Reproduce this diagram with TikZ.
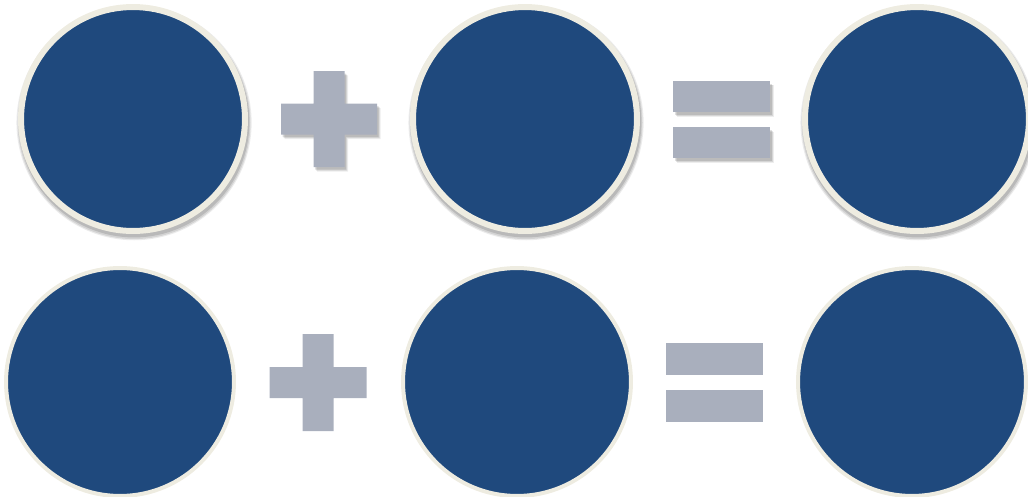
\documentclass[tikz,border=0pt]{standalone}
\usepackage{xcolor}
\usetikzlibrary{shadows}
\definecolor{DiscBlue}{HTML}{1F497D}
\definecolor{RimCream}{HTML}{EEECE1}
\definecolor{SignGray}{HTML}{A9AFBD}

\begin{document}
\begin{tikzpicture}[
  x=0.02cm, y=-0.02cm,
  disc/.style={circle, fill=DiscBlue, draw=RimCream, inner sep=0pt},
  softdisc/.style={
    drop shadow={shadow scale=1.05, shadow xshift=0.02cm, shadow yshift=-0.07cm, opacity=0.08, fill=black},
    drop shadow={shadow scale=1.04, shadow xshift=0.02cm, shadow yshift=-0.07cm, opacity=0.10, fill=black},
    drop shadow={shadow scale=1.03, shadow xshift=0.02cm, shadow yshift=-0.06cm, opacity=0.12, fill=black}},
  disctop/.style={disc, softdisc, minimum size=4.48cm, line width=0.12cm},
  discbottom/.style={disc, minimum size=4.56cm, line width=0.08cm},
  sign/.style={fill=SignGray},
  signtop/.style={sign,
    drop shadow={shadow xshift=0.07cm, shadow yshift=-0.09cm, opacity=0.07, fill=black},
    drop shadow={shadow xshift=0.05cm, shadow yshift=-0.07cm, opacity=0.10, fill=black},
    drop shadow={shadow xshift=0.03cm, shadow yshift=-0.05cm, opacity=0.12, fill=black}}
]
\useasboundingbox (0,0) rectangle (1028,497);

% top row
\node[disctop] (lhsA) at (133,119) {};
\node[disctop] (rhsA) at (525,119) {};
\node[disctop] (sumA) at (917,119) {};
\coordinate (plusA) at (329,119);
\coordinate (eqA) at (721.5,119.5);

% bottom row
\node[discbottom] (lhsB) at (120,382) {};
\node[discbottom] (rhsB) at (517,382) {};
\node[discbottom] (sumB) at (912,382) {};
\coordinate (plusB) at (318,382.5);
\coordinate (eqB) at (714.5,382);

% plus signs
\path[signtop, shift={(plusA)}] (-48,-15.5) -- (-15.5,-15.5) -- (-15.5,-48) -- (15.5,-48)
  -- (15.5,-15.5) -- (48,-15.5) -- (48,15.5) -- (15.5,15.5) -- (15.5,48) -- (-15.5,48)
  -- (-15.5,15.5) -- (-48,15.5) -- cycle;
\path[sign, shift={(plusB)}] (-48.5,-15.5) -- (-15.5,-15.5) -- (-15.5,-48.5) -- (15.5,-48.5)
  -- (15.5,-15.5) -- (48.5,-15.5) -- (48.5,15.5) -- (15.5,15.5) -- (15.5,48.5) -- (-15.5,48.5)
  -- (-15.5,15.5) -- (-48.5,15.5) -- cycle;

% equals signs
\path[signtop, shift={(eqA)}] (-48.5,-38.5) rectangle (48.5,-7.5);
\path[signtop, shift={(eqA)}] (-48.5,7.5) rectangle (48.5,38.5);
\path[sign, shift={(eqB)}] (-48.5,-39) rectangle (48.5,-7);
\path[sign, shift={(eqB)}] (-48.5,8) rectangle (48.5,39.5);

\end{tikzpicture}
\end{document}
